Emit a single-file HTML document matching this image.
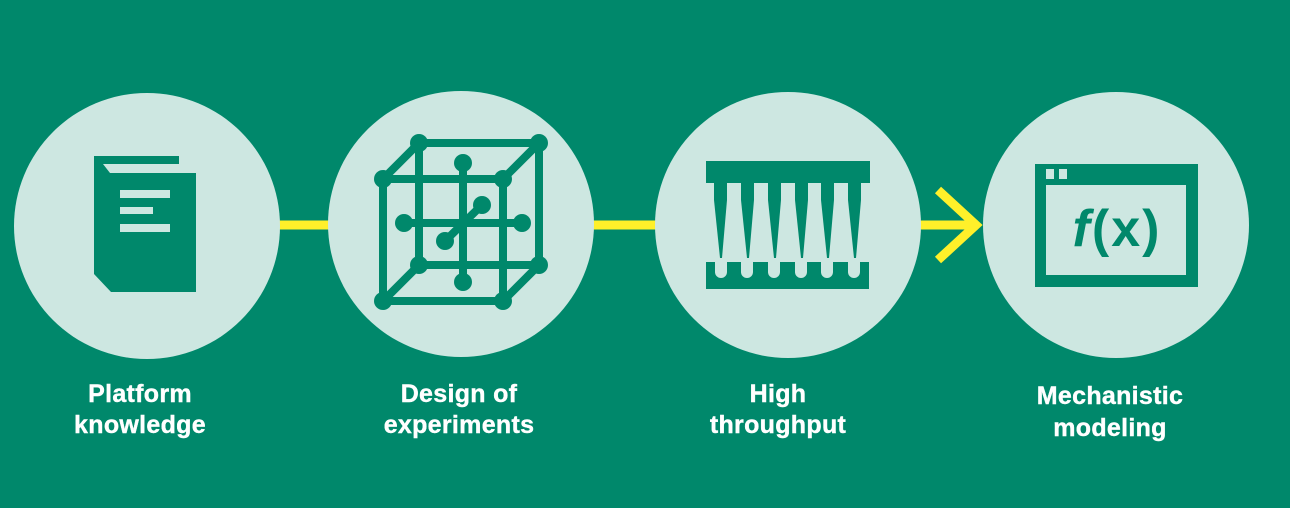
<!DOCTYPE html>
<html><head><meta charset="utf-8"><style>
html,body{margin:0;padding:0;background:#00886B;}
svg{display:block}
text{font-family:"Liberation Sans",Arial,sans-serif;font-weight:bold;}
</style></head><body>
<svg width="1290" height="508" viewBox="0 0 1290 508" xmlns="http://www.w3.org/2000/svg">
<rect width="1290" height="508" fill="#00886B"/>
<g stroke="#FFF02A" stroke-width="9" fill="none">
<line x1="275" y1="225" x2="335" y2="225"/>
<line x1="590" y1="225" x2="660" y2="225"/>
<line x1="915" y1="225" x2="978" y2="225"/>
<polyline points="938,190 976,225 938,260"/>
</g>
<g fill="#CDE7E1">
<circle cx="147" cy="226" r="133"/>
<circle cx="461" cy="224" r="133"/>
<circle cx="788" cy="225" r="133"/>
<circle cx="1116" cy="225" r="133"/>
</g>
<g fill="#00886B">
<rect x="94" y="156" width="85" height="8"/>
<polygon points="94,164 103,164 110,173 196,173 196,292 111,292 94,274"/>
</g>
<g fill="#CDE7E1">
<rect x="120" y="190" width="50" height="8"/>
<rect x="120" y="207" width="33" height="7"/>
<rect x="120" y="224" width="50" height="8"/>
</g>
<g stroke="#00886B" stroke-width="8" fill="none" stroke-linecap="round">
<rect x="419" y="143" width="120" height="122"/>
<rect x="383" y="179" width="120" height="122"/>
<line x1="383" y1="179" x2="419" y2="143"/><line x1="503" y1="179" x2="539" y2="143"/>
<line x1="383" y1="301" x2="419" y2="265"/><line x1="503" y1="301" x2="539" y2="265"/>
<line x1="463" y1="163" x2="463" y2="282"/><line x1="404" y1="223" x2="522" y2="223"/>
<line x1="482" y1="205" x2="445" y2="241"/>
</g>
<g fill="#00886B">
<circle cx="419" cy="143" r="9"/><circle cx="539" cy="143" r="9"/><circle cx="419" cy="265" r="9"/><circle cx="539" cy="265" r="9"/>
<circle cx="383" cy="179" r="9"/><circle cx="503" cy="179" r="9"/><circle cx="383" cy="301" r="9"/><circle cx="503" cy="301" r="9"/>
<circle cx="463" cy="163" r="9"/><circle cx="463" cy="282" r="9"/><circle cx="404" cy="223" r="9"/><circle cx="522" cy="223" r="9"/>
<circle cx="482" cy="205" r="9"/><circle cx="445" cy="241" r="9"/>
</g>
<g fill="#00886B">
<rect x="706" y="161" width="164" height="22"/>
<polygon points="714,183 727,183 727,200 722,258 720,258 714,200"/>
<polygon points="741,183 754,183 754,200 749,258 747,258 741,200"/>
<polygon points="768,183 781,183 781,200 776,258 774,258 768,200"/>
<polygon points="795,183 808,183 808,200 803,258 801,258 795,200"/>
<polygon points="821,183 834,183 834,200 829,258 827,258 821,200"/>
<polygon points="848,183 861,183 861,200 856,258 854,258 848,200"/>
<rect x="706" y="262" width="163" height="27"/>
</g>
<g fill="#CDE7E1">
<path d="M715,262 h12 v10 a6,6 0 0 1 -12,0z"/>
<path d="M741,262 h12 v10 a6,6 0 0 1 -12,0z"/>
<path d="M768,262 h12 v10 a6,6 0 0 1 -12,0z"/>
<path d="M795,262 h12 v10 a6,6 0 0 1 -12,0z"/>
<path d="M821,262 h12 v10 a6,6 0 0 1 -12,0z"/>
<path d="M848,262 h12 v10 a6,6 0 0 1 -12,0z"/>
</g>
<rect x="1035" y="164" width="163" height="123" fill="#00886B"/>
<rect x="1046" y="185" width="140" height="90" fill="#CDE7E1"/>
<rect x="1046" y="169" width="8" height="10" fill="#CDE7E1"/>
<rect x="1059" y="169" width="8" height="10" fill="#CDE7E1"/>
<text x="1117" y="246" font-size="52" fill="#00886B" text-anchor="middle" letter-spacing="2"><tspan font-style="italic">f</tspan>(x)</text>
<g fill="#fff" font-size="25" text-anchor="middle" stroke="#fff" stroke-width="0.4" letter-spacing="0.3">
<text x="140" y="402">Platform</text><text x="140" y="433">knowledge</text>
<text x="459" y="402">Design of</text><text x="459" y="433">experiments</text>
<text x="778" y="402">High</text><text x="778" y="433">throughput</text>
<text x="1110" y="404">Mechanistic</text><text x="1110" y="436">modeling</text>
</g>
</svg>
</body></html>
